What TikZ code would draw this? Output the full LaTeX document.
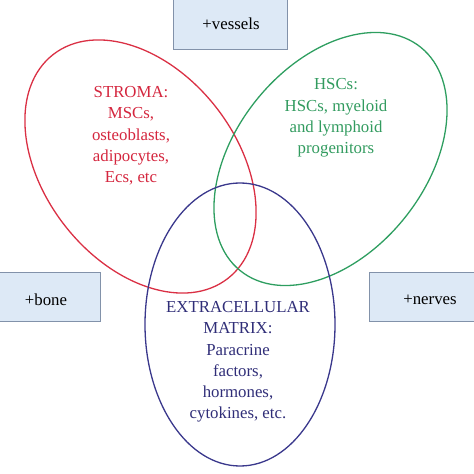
\documentclass[tikz,border=0pt]{standalone}
\usepackage{fontspec}
\setmainfont{Liberation Serif}
\definecolor{redc}{RGB}{218,48,68}
\definecolor{greenc}{RGB}{46,158,96}
\definecolor{bluec}{RGB}{58,56,140}
\definecolor{redt}{RGB}{212,38,62}
\definecolor{greent}{RGB}{50,155,95}
\definecolor{bluet}{RGB}{48,46,120}
\definecolor{boxfill}{RGB}{221,233,246}
\definecolor{boxline}{RGB}{130,146,170}
\tikzset{
  setline/.style={line width=1.3pt},
  lbl/.style={align=center, font=\fontsize{16.8}{21.3}\selectfont, inner sep=0pt},
  extbox/.style={draw=boxline, fill=boxfill, line width=1pt},
  boxtext/.style={font=\fontsize{16.8}{20}\selectfont, inner sep=0pt}
}
\begin{document}
\begin{tikzpicture}[x=1pt,y=1pt]
\useasboundingbox (0,0) rectangle (474,474);
% boxes
\filldraw[extbox] (173,424) rectangle (287,480);
\filldraw[extbox] (-5,152) rectangle (100,201);
\filldraw[extbox] (369,152) rectangle (490,201);
\node[boxtext] (vessels) at (231,450) {+vessels};
\node[boxtext] (bone) at (46,174) {+bone};
\node[boxtext] (nerves) at (430,174) {+nerves};
% sets
\draw[setline, redc, rotate around={-52:(140.5,307.5)}] (140.5,307.5) ellipse [x radius=142pt, y radius=96pt];
\draw[setline, greenc, rotate around={51:(330.5,315)}] (330.5,315) ellipse [x radius=143.6pt, y radius=94.7pt];
\draw[setline, bluec] (240,149.5) ellipse [x radius=95pt, y radius=141.5pt];
% labels
\node[lbl, text=redt] (stroma) at (131,338) {STROMA:\\MSCs,\\osteoblasts,\\adipocytes,\\Ecs, etc};
\node[lbl, text=greent] (hsc) at (336,356) {HSCs:\\HSCs, myeloid\\and lymphoid\\progenitors};
\node[lbl, text=bluet] (ecm) at (238,112) {EXTRACELLULAR\\MATRIX:\\Paracrine\\factors,\\hormones,\\cytokines, etc.};
\end{tikzpicture}
\end{document}
